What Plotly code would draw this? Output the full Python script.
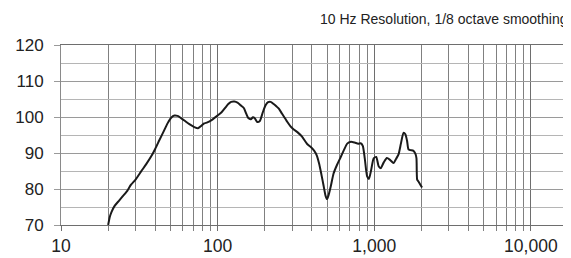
import plotly.graph_objects as go

freq_hz = [20.0, 20.5, 21.0, 22.0, 23.5, 24.8, 26.5, 28.0, 30.0, 32.5, 35.0, 37.6, 40.0, 42.5,
           45.0, 48.0, 50.5, 53.0, 55.5, 58.4, 62.0, 66.0, 71.0, 75.0, 79.0, 82.0, 86.0,
           92.0, 100.0, 106.0, 112.0, 117.0, 122.0, 128.0, 134.0, 140.0, 147.0, 152.0, 157.0,
           163.0, 168.0, 173.0, 179.0, 186.0, 194.0, 202.0, 210.0, 218.0, 228.0, 238.0, 246.0,
           258.0, 270.0, 279.0, 292.0, 305.0, 323.0, 345.0, 373.0, 395.0, 414.0, 430.0, 445.0,
           460.0, 475.0, 489.0, 500.0, 512.0, 527.0, 550.0, 580.0, 610.0, 640.0, 672.0, 710.0,
           750.0, 790.0, 819.0, 845.0, 870.0, 900.0, 925.0, 955.0, 992.0, 1030.0, 1067.0,
           1100.0, 1150.0, 1205.0, 1260.0, 1328.0, 1380.0, 1429.0, 1480.0, 1537.0, 1580.0,
           1620.0, 1654.0, 1700.0, 1780.0, 1830.0, 1860.0, 1880.0, 1920.0, 1970.0, 2020.0]
spl_db = [70.0, 72.3, 73.6, 75.3, 76.8, 78.0, 79.5, 81.2, 82.7, 84.9, 86.9, 89.0, 91.2, 93.6,
          95.8, 98.3, 99.8, 100.4, 100.3, 99.7, 98.9, 98.0, 97.2, 96.9, 97.6, 98.2, 98.5,
          99.2, 100.4, 101.3, 102.6, 103.6, 104.2, 104.3, 104.0, 103.3, 102.5, 101.0, 99.7,
          99.4, 99.9, 99.6, 98.6, 98.9, 101.2, 103.2, 104.1, 104.2, 103.6, 102.9, 102.3,
          100.9, 99.6, 98.6, 97.4, 96.6, 95.8, 94.6, 92.5, 91.6, 90.6, 89.3, 87.0, 84.0,
          80.9, 78.1, 77.2, 78.4, 80.6, 84.3, 86.8, 88.8, 90.8, 92.6, 93.1, 92.9, 92.6,
          92.7, 92.0, 88.5, 83.6, 82.8, 85.2, 88.5, 88.9, 86.3, 85.8, 87.4, 88.6, 88.1,
          87.2, 88.4, 89.6, 92.6, 95.6, 95.2, 93.4, 91.0, 90.8, 90.6, 89.8, 88.6, 82.6,
          82.0, 81.2, 80.4]

x_tick_vals = [10, 100, 1000, 10000]
x_tick_text = ["10", "100", "1,000", "10,000"]
y_tick_vals = [70, 80, 90, 100, 110, 120]
title_text = "10 Hz Resolution, 1/8 octave smoothing"

fig = go.Figure()
fig.add_trace(go.Scatter(
    x=freq_hz, y=spl_db, mode="lines",
    line=dict(color="#1a1a1a", width=2, shape="spline", smoothing=0.6),
    hoverinfo="skip", showlegend=False,
))

font_family = "Liberation Sans, Arial, sans-serif"

fig.update_layout(
    width=571, height=258,
    margin=dict(l=53, r=1, t=37, b=41),
    paper_bgcolor="white", plot_bgcolor="white",
    font=dict(family=font_family, color="#222222", size=15),
    xaxis=dict(
        type="log", range=[1, 4.30103],
        tickvals=x_tick_vals, ticktext=x_tick_text,
        showgrid=True, gridcolor="#6e6e6e", gridwidth=1,
        ticks="outside", ticklen=5, tickcolor="#6e6e6e",
        minor=dict(dtick="D1", showgrid=True, gridcolor="#808080", gridwidth=1,
                   ticks="outside", ticklen=5, tickcolor="#808080"),
        zeroline=False, showline=True, linecolor="#6e6e6e", mirror=True,
        tickfont=dict(size=17.5, color="#222222"), ticklabelstandoff=0,
        fixedrange=True,
    ),
    yaxis=dict(
        range=[70, 120], tickvals=y_tick_vals,
        showgrid=True, gridcolor="#9a9a9a", gridwidth=1,
        ticks="outside", ticklen=6, tickcolor="#9a9a9a",
        minor=dict(dtick=5, showgrid=True, gridcolor="#b5b5b5", gridwidth=1),
        zeroline=False, showline=True, linecolor="#8a8a8a", mirror=True,
        tickfont=dict(size=17, color="#222222"), ticklabelstandoff=7,
        fixedrange=True,
    ),
    annotations=[dict(
        text=title_text,
        xref="paper", yref="paper", x=1.0, y=1.0, xshift=-9, yshift=26,
        xanchor="right", yanchor="middle", showarrow=False,
        font=dict(size=14, color="#222222", family=font_family),
    )],
)

fig.write_html("out.html")
